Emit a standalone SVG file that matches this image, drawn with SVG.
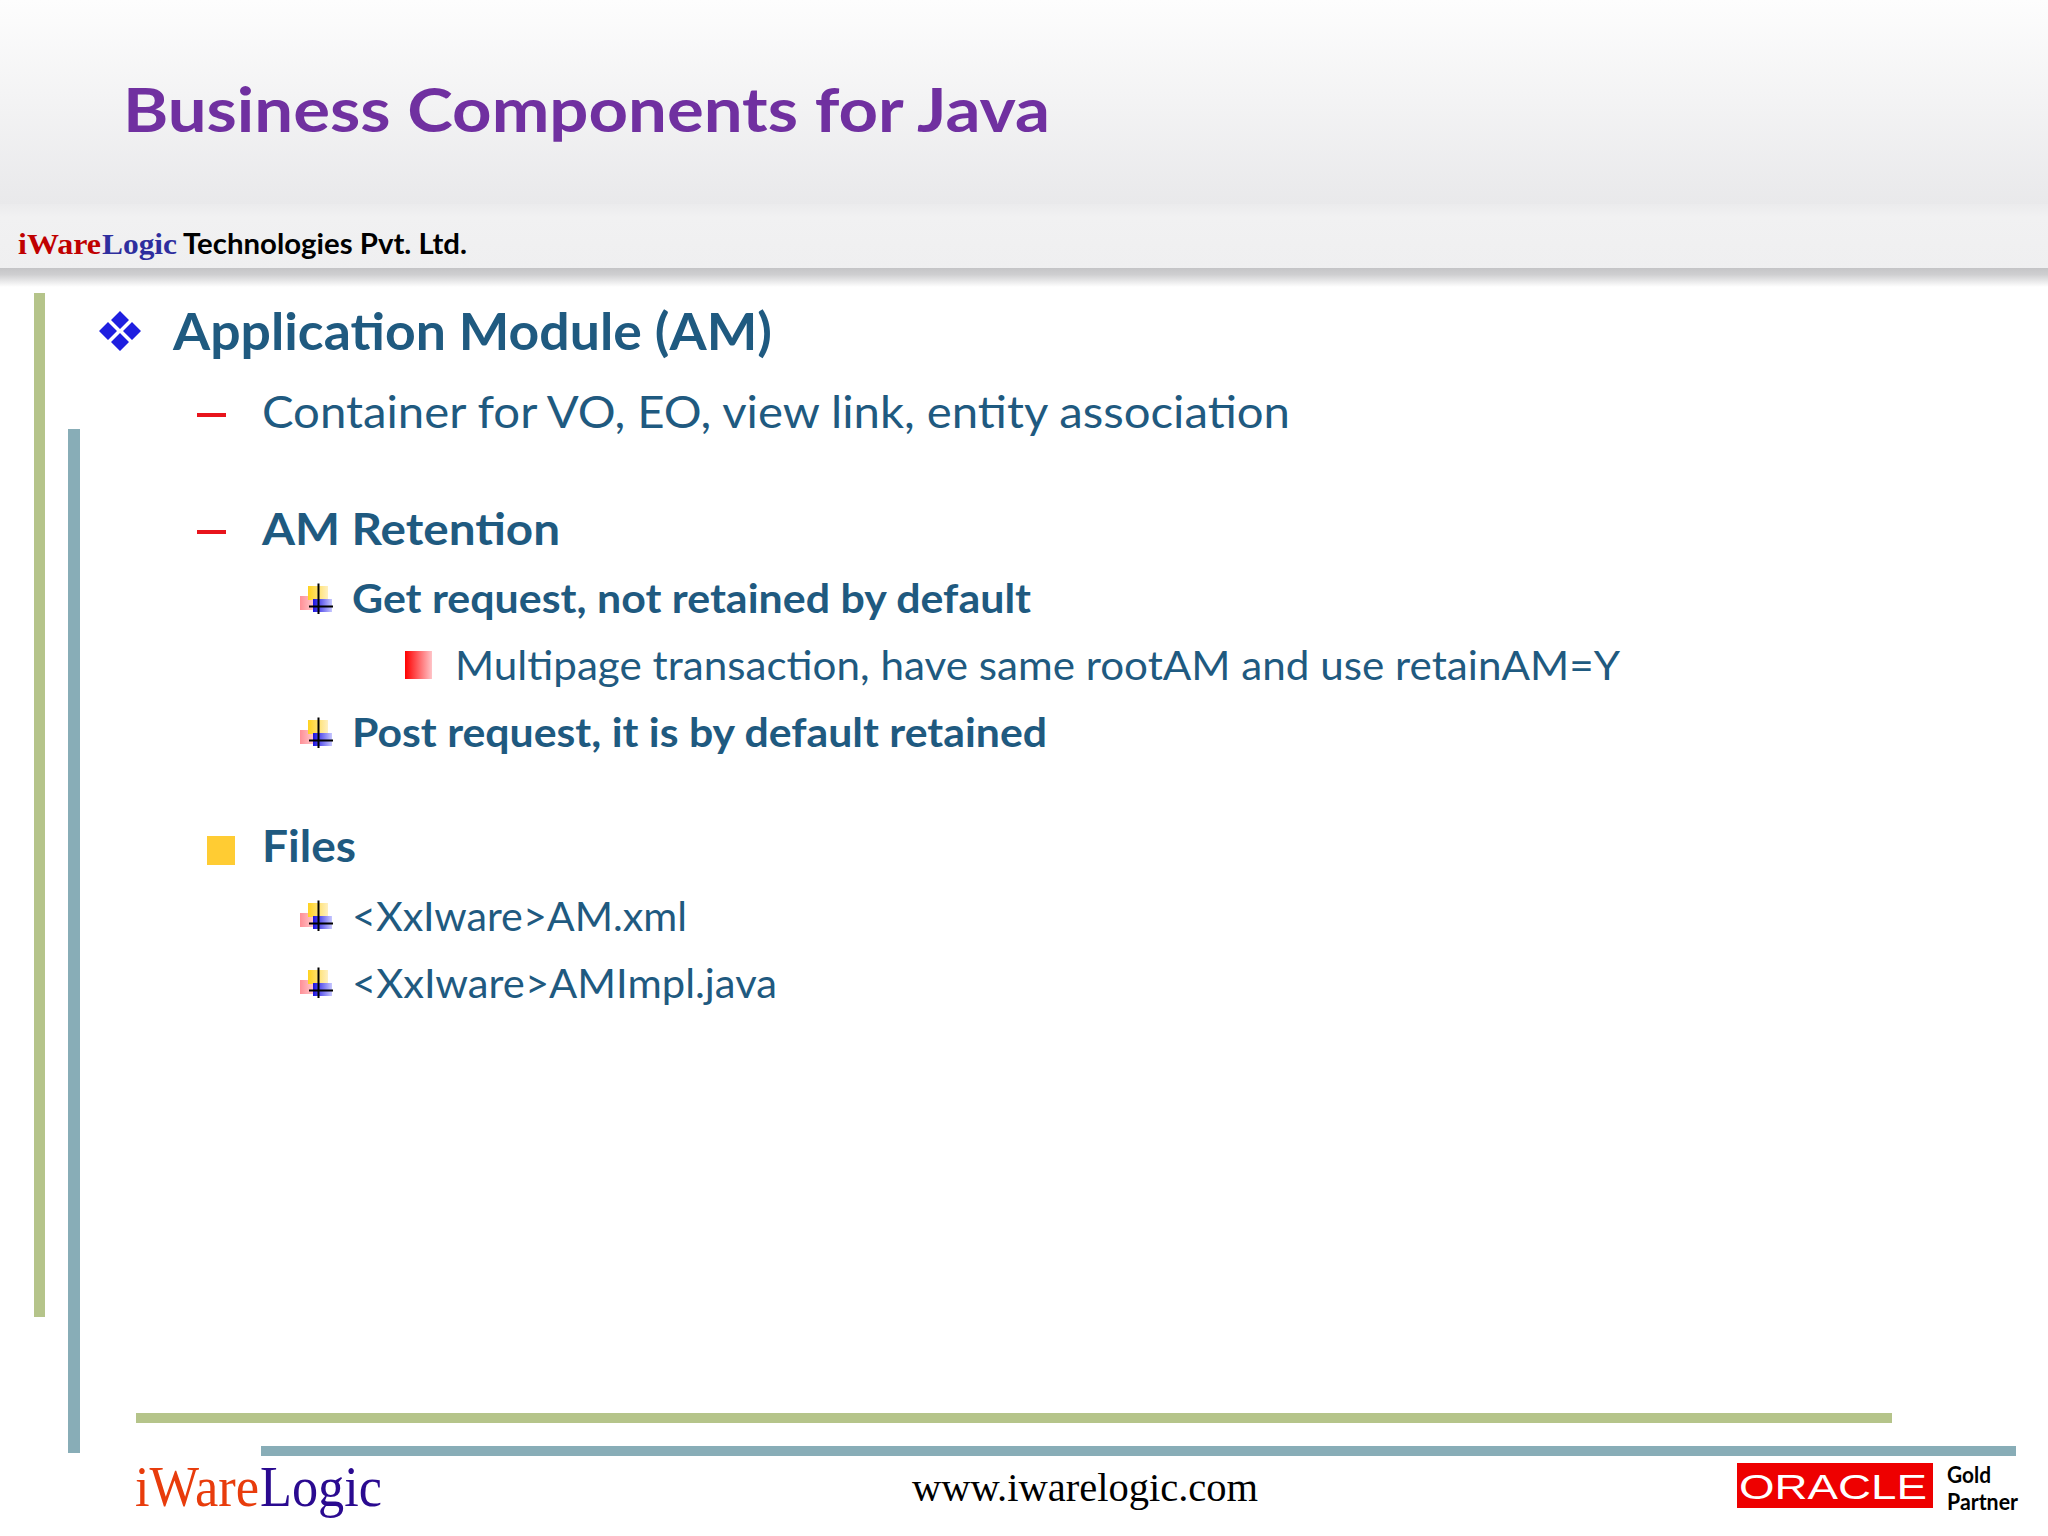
<svg xmlns="http://www.w3.org/2000/svg" xmlns:xlink="http://www.w3.org/1999/xlink" width="2048" height="1536" viewBox="0 0 2048 1536">
<style>
text{font-family:"Lato","Open Sans",sans-serif;fill:#1f5a80}
.b{font-weight:700}
.serif{font-family:"Liberation Serif",serif}
.blk{fill:#000}
</style>
<defs>
<linearGradient id="top" x1="0" y1="0" x2="0" y2="1"><stop offset="0" stop-color="#fdfdfd"/><stop offset="1" stop-color="#e9e9eb"/></linearGradient>
<linearGradient id="band" x1="0" y1="0" x2="0" y2="1"><stop offset="0" stop-color="#ebebed"/><stop offset=".2" stop-color="#f1f1f2"/><stop offset="1" stop-color="#efeff0"/></linearGradient>
<linearGradient id="shadow" x1="0" y1="0" x2="0" y2="1"><stop offset="0" stop-color="#c4c4c6"/><stop offset=".35" stop-color="#cfcfd1"/><stop offset="1" stop-color="#ffffff"/></linearGradient>
<linearGradient id="redfade" x1="0" y1="0" x2="1" y2="0"><stop offset="0" stop-color="#ff0000"/><stop offset="1" stop-color="#ffc4c8"/></linearGradient>
<linearGradient id="yel" x1="0" y1="0" x2="1" y2="0"><stop offset="0" stop-color="#ffd21f"/><stop offset="1" stop-color="#fff0c0"/></linearGradient>
<linearGradient id="pink" x1="0" y1="0" x2="1" y2="0"><stop offset="0" stop-color="#ff8f96"/><stop offset="1" stop-color="#ffe4e6"/></linearGradient>
<linearGradient id="blu" x1="0" y1="0" x2="1" y2="0"><stop offset="0" stop-color="#1a10e0"/><stop offset="1" stop-color="#c8c8ff"/></linearGradient>
<g id="plus">
<rect x="300" y="596" width="20" height="14" fill="url(#pink)"/>
<rect x="308" y="586" width="20" height="14" fill="url(#yel)"/>
<rect x="313" y="599" width="19" height="13" fill="url(#blu)"/>
<path d="M318.500 583.500V614M309 606.500H333" stroke="#000" stroke-width="2" fill="none"/>
</g>
</defs>
<rect width="2048" height="1536" fill="#fff"/>
<g id="header">
<rect width="2048" height="204" fill="url(#top)"/>
<rect y="204" width="2048" height="64" fill="url(#band)"/>
<rect y="268" width="2048" height="19" fill="url(#shadow)"/>
<text class="b" x="123" y="132" font-size="62" fill="#7030a0" style="fill:#7030a0" textLength="927" lengthAdjust="spacingAndGlyphs">Business Components for Java</text>
<text class="serif b" x="18" y="254" font-size="30" style="fill:#c00000;font-weight:700" textLength="83" lengthAdjust="spacingAndGlyphs">iWare</text>
<text class="serif b" x="102" y="254" font-size="30" style="fill:#2e2e9e;font-weight:700" textLength="75" lengthAdjust="spacingAndGlyphs">Logic</text>
<text class="b blk" x="183" y="254" font-size="28" textLength="284" lengthAdjust="spacingAndGlyphs">Technologies Pvt. Ltd.</text>
</g>
<g id="frame">
<rect x="34" y="293" width="11" height="1024" fill="#b5c48a"/>
<rect x="68" y="429" width="12" height="1024" fill="#88adb7"/>
<rect x="136" y="1413" width="1756" height="10" fill="#b5c48a"/>
<rect x="261" y="1446" width="1755" height="10" fill="#88adb7"/>
</g>
<g id="content">
<g id="am">
<path fill="#1f1fe0" d="M120 311l9 9-9 9-9-9zM108 322l9 9-9 9-9-9zM132 322l9 9-9 9-9-9zM120 333l9 9-9 9-9-9z"/>
<text class="b" x="173" y="350" font-size="52" textLength="599" lengthAdjust="spacingAndGlyphs">Application Module (AM)</text>
</g>
<g id="container">
<rect x="197" y="413" width="29" height="4" fill="#e8141c"/>
<text x="262" y="428" font-size="44" textLength="1028" lengthAdjust="spacingAndGlyphs">Container for VO, EO, view link, entity association</text>
</g>
<g id="retention">
<rect x="197" y="530" width="29" height="4" fill="#e8141c"/>
<text class="b" x="262" y="545" font-size="44" textLength="298" lengthAdjust="spacingAndGlyphs">AM Retention</text>
</g>
<g id="get">
<use href="#plus"/>
<text class="b" x="352" y="613" font-size="40" textLength="679" lengthAdjust="spacingAndGlyphs">Get request, not retained by default</text>
</g>
<g id="multipage">
<rect x="405" y="651" width="27" height="28" fill="url(#redfade)"/>
<text x="455" y="680" font-size="40" textLength="1165" lengthAdjust="spacingAndGlyphs">Multipage transaction, have same rootAM and use retainAM=Y</text>
</g>
<g id="post">
<use href="#plus" y="134"/>
<text class="b" x="352" y="747" font-size="40" textLength="695" lengthAdjust="spacingAndGlyphs">Post request, it is by default retained</text>
</g>
<g id="files">
<rect x="207" y="836" width="28" height="29" fill="#ffcc33"/>
<text class="b" x="262" y="862" font-size="44" textLength="94" lengthAdjust="spacingAndGlyphs">Files</text>
</g>
<g id="xml">
<use href="#plus" y="317"/>
<text x="352" y="931" font-size="40" textLength="335" lengthAdjust="spacingAndGlyphs">&lt;XxIware&gt;AM.xml</text>
</g>
<g id="java">
<use href="#plus" y="384"/>
<text x="352" y="998" font-size="40" textLength="425" lengthAdjust="spacingAndGlyphs">&lt;XxIware&gt;AMImpl.java</text>
</g>
</g>
<g id="footer">
<text class="serif" x="135" y="1506" font-size="58" style="fill:#e83c0c" textLength="124" lengthAdjust="spacingAndGlyphs">iWare</text>
<text class="serif" x="260" y="1506" font-size="58" style="fill:#2a0a90" textLength="122" lengthAdjust="spacingAndGlyphs">Logic</text>
<text class="serif blk" x="912" y="1501" font-size="40" textLength="346" lengthAdjust="spacingAndGlyphs">www.iwarelogic.com</text>
<rect x="1737" y="1463" width="196" height="45" fill="#ee0000"/>
<text x="1739" y="1499" font-size="35" style="font-family:'Liberation Sans',sans-serif;fill:#fff" textLength="188" lengthAdjust="spacingAndGlyphs">ORACLE</text>
<text class="b blk" x="1947" y="1483" font-size="22" textLength="44" lengthAdjust="spacingAndGlyphs">Gold</text>
<text class="b blk" x="1947" y="1510" font-size="22" textLength="71" lengthAdjust="spacingAndGlyphs">Partner</text>
</g>
</svg>
